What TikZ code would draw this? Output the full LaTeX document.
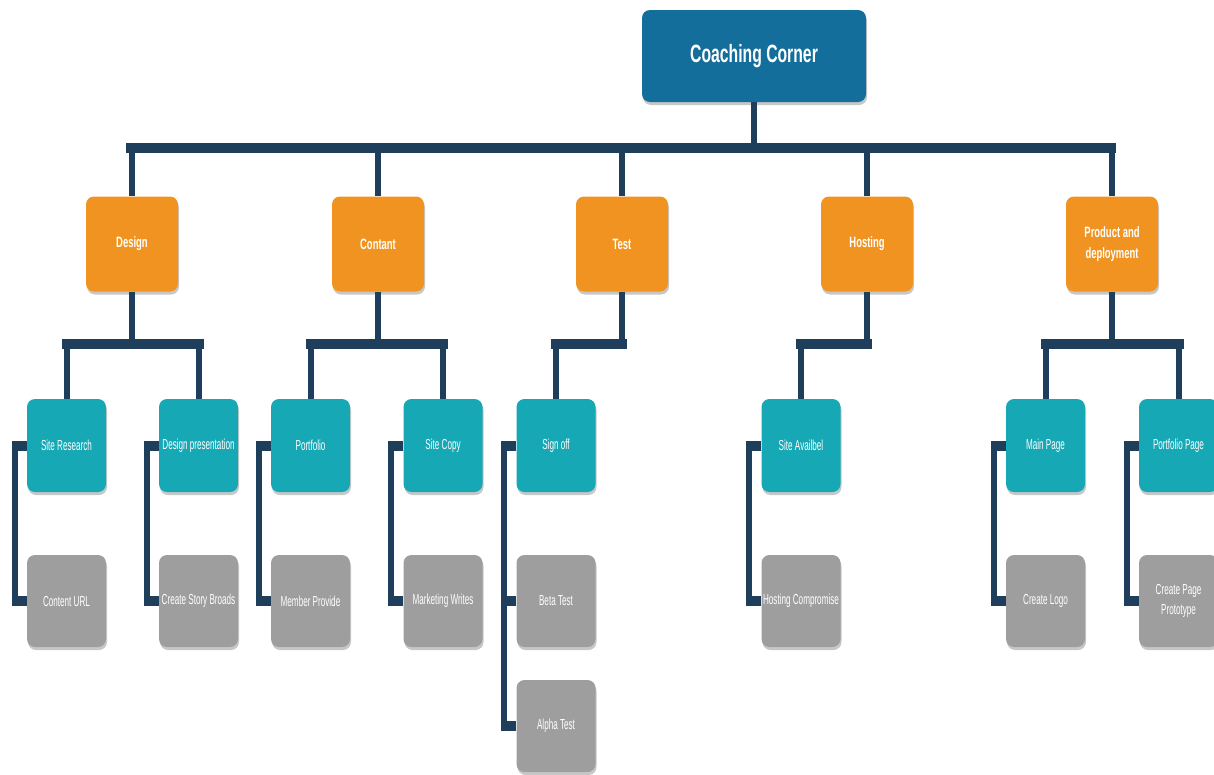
\documentclass[tikz,border=0pt]{standalone}
\usepackage{fontspec}
\setmainfont[FakeStretch=0.63]{Liberation Sans}
\newfontfamily\narrowfont[FakeStretch=0.56]{Liberation Sans}
\usetikzlibrary{shadows,calc}
\definecolor{rootblue}{RGB}{20,110,155}
\definecolor{phaseorange}{RGB}{240,147,32}
\definecolor{taskcyan}{RGB}{22,168,181}
\definecolor{subgray}{RGB}{158,158,158}
\definecolor{linkblue}{RGB}{30,62,92}
\begin{document}
\begin{tikzpicture}[x=1pt,y=-1pt,
  card/.style={rounded corners=8pt, draw=none, text=white, align=center, inner sep=0pt,
    drop shadow={shadow xshift=1pt, shadow yshift=-3pt, opacity=0.22, fill=black}},
  rootbox/.style={card, fill=rootblue, minimum width=224pt, minimum height=92pt,
    font=\bfseries\fontsize{25}{30}\selectfont},
  phasebox/.style={card, fill=phaseorange, minimum width=92pt, minimum height=95pt,
    font=\bfseries\fontsize{15}{21}\selectfont},
  taskbox/.style={card, fill=taskcyan, minimum width=79pt, minimum height=93pt,
    font=\narrowfont\fontsize{14.5}{19}\selectfont},
  subbox/.style={card, fill=subgray, minimum width=79pt, minimum height=92pt,
    font=\narrowfont\fontsize{14.5}{20}\selectfont},
  bus/.style={draw=linkblue, line width=10pt, line cap=rect},
  drop/.style={draw=linkblue, line width=6pt},
  stub/.style={draw=linkblue, line width=10pt}
]
\useasboundingbox (0,0) rectangle (1214,774);

% bus levels
\coordinate (busA) at (0,148);
\coordinate (busB) at (0,344);

% root
\node[rootbox] (root) at (754,56) {Coaching Corner};

% phases
\node[phasebox] (design) at (132,244) {Design};
\node[phasebox] (content) at (378,244) {Contant};
\node[phasebox] (test) at (622,244) {Test};
\node[phasebox] (hosting) at (867,244) {Hosting};
\node[phasebox] (prod) at (1112,244) {Product and\\deployment};

% tasks
\node[taskbox] (sr) at (66.5,445.5) {Site Research};
\node[taskbox] (dp) at (198.5,445.5) {Design presentation};
\node[taskbox] (pf) at (310.5,445.5) {Portfolio};
\node[taskbox] (sc) at (443,445.5) {Site Copy};
\node[taskbox] (so) at (556,445.5) {Sign off};
\node[taskbox] (sa) at (801,445.5) {Site Availbel};
\node[taskbox] (mp) at (1045.5,445.5) {Main Page};
\node[taskbox] (pp) at (1178.5,445.5) {Portfolio Page};

% subtasks
\node[subbox] (cu) at (66.5,601) {Content URL};
\node[subbox] (cs) at (198.5,601) {Create Story Broads};
\node[subbox] (mb) at (310.5,601) {Member Provide};
\node[subbox] (mw) at (443,601) {Marketing Writes};
\node[subbox] (bt) at (556,601) {Beta Test};
\node[subbox] (at) at (556,726) {Alpha Test};
\node[subbox] (hc) at (801,601) {Hosting Compromise};
\node[subbox] (cl) at (1045.5,601) {Create Logo};
\node[subbox] (cp) at (1178.5,601) {Create Page\\Prototype};

% root to phases
\draw[drop] (root.south) -- (root.south |- busA);
\draw[bus] ($(design.north |- busA)+(-1,0)$) -- ($(prod.north |- busA)+(-1,0)$);
\foreach \p in {design,content,test,hosting,prod}
  \draw[drop] (\p.north |- busA) -- (\p.north);

% phases to tasks
\draw[drop] (design.south) -- (design.south |- busB);
\draw[bus] (sr.north |- busB) -- (dp.north |- busB);
\draw[drop] (content.south) -- (content.south |- busB);
\draw[bus] (pf.north |- busB) -- (sc.north |- busB);
\draw[drop] (test.south) -- (test.south |- busB);
\draw[bus] (so.north |- busB) -- (test.south |- busB);
\draw[drop] (hosting.south) -- (hosting.south |- busB);
\draw[bus] (sa.north |- busB) -- (hosting.south |- busB);
\draw[drop] (prod.south) -- (prod.south |- busB);
\draw[bus] (mp.north |- busB) -- (pp.north |- busB);
\foreach \t in {sr,dp,pf,sc,so,sa,mp,pp}
  \draw[drop] (\t.north |- busB) -- (\t.north);

% tasks to subtasks
\foreach \t/\s in {sr/cu,dp/cs,pf/mb,sc/mw,so/at,sa/hc,mp/cl,pp/cp}
  \draw[drop] ($(\t.west)+(-12,0)$) -- ($(\s.west)+(-12,0)$);
\foreach \n in {sr,cu,dp,cs,pf,mb,sc,mw,so,bt,at,sa,hc,mp,cl,pp,cp}
  \draw[stub] (\n.west) -- ++(-15,0);
\end{tikzpicture}
\end{document}
